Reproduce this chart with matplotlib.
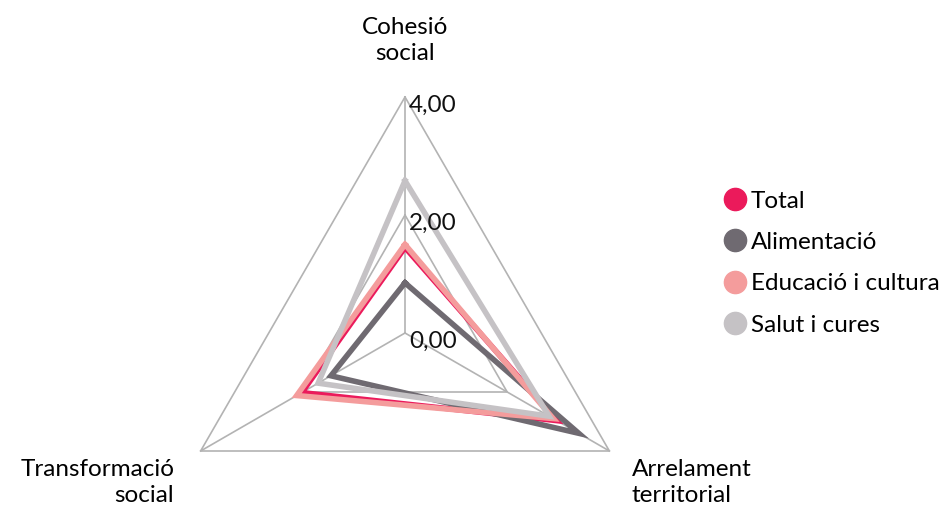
import numpy as np
import matplotlib.pyplot as plt
from matplotlib.lines import Line2D

plt.rcParams['font.family'] = ['Lato', 'DejaVu Sans']

axes_labels = ["Cohesió\nsocial", "Arrelament\nterritorial", "Transformació\nsocial"]
series = ["Total", "Alimentació", "Educació i cultura", "Salut i cures"]
total = [1.45, 2.97, 2.02]
alimentacio = [0.85, 3.40, 1.45]
educacio = [1.50, 2.90, 2.12]
salut = [2.58, 2.82, 1.70]
grid_levels = [2, 4]
tick_values = [4, 2, 0]
tick_labels = ["4,00", "2,00", "0,00"]

colors = ["#EB1A5B", "#6F6A71", "#F49C9C", "#C5C2C5"]
grid_col = "#B3B3B3"
fs = 17.5

fig = plt.figure(figsize=(9.52, 5.08), dpi=100)
cx, cy, rad = 405, 333, 236
ax = fig.add_axes([(cx - rad) / 952, (508 - cy - rad) / 508, 2 * rad / 952, 2 * rad / 508],
                  projection='polar')
ax.set_theta_offset(np.pi / 2)
ax.set_theta_direction(-1)
ax.set_ylim(0, 4)
ax.grid(False)
ax.spines['polar'].set_visible(False)
ax.set_xticks([])
ax.set_yticks([])
ax.patch.set_visible(False)

theta = np.arange(3) * 2 * np.pi / 3
closed = np.append(theta, theta[0])

# grid triangles and spokes
for lv in grid_levels:
    ax.plot(closed, [lv] * 4, color=grid_col, lw=1.2, clip_on=False, zorder=1)
for t in theta:
    ax.plot([t, t], [0, 4], color=grid_col, lw=1.2, clip_on=False, zorder=1)

data = [total, alimentacio, educacio, salut]
for i, vals in enumerate(data):
    v = np.append(vals, vals[0])
    ax.plot(closed, v, color=colors[i], lw=4, solid_joinstyle='miter', zorder=3 + i)

for val, lab in zip(tick_values, tick_labels):
    ax.annotate(lab, xy=(0, val), xytext=(3, -6), textcoords='offset points',
                ha='left', va='center', fontsize=fs, color='#111111', zorder=10)

ax.annotate(axes_labels[0], xy=(theta[0], 4), xytext=(0, 24), textcoords='offset points',
            ha='center', va='bottom', fontsize=fs, linespacing=1.3, annotation_clip=False)
ax.annotate(axes_labels[1], xy=(theta[1], 4), xytext=(16, -6), textcoords='offset points',
            ha='left', va='top', fontsize=fs, linespacing=1.3, annotation_clip=False)
ax.annotate(axes_labels[2], xy=(theta[2], 4), xytext=(-19, -6), textcoords='offset points',
            ha='right', va='top', fontsize=fs, linespacing=1.3, annotation_clip=False)

handles = [Line2D([], [], marker='o', ls='none', markersize=16, color=c) for c in colors]
fig.legend(handles, series, loc='center left', bbox_to_anchor=(0.759, 0.482),
           frameon=False, fontsize=fs, handlelength=1.0, handletextpad=0.15,
           labelspacing=0.84, borderpad=0, borderaxespad=0)

fig.savefig("out.png", dpi=100)
